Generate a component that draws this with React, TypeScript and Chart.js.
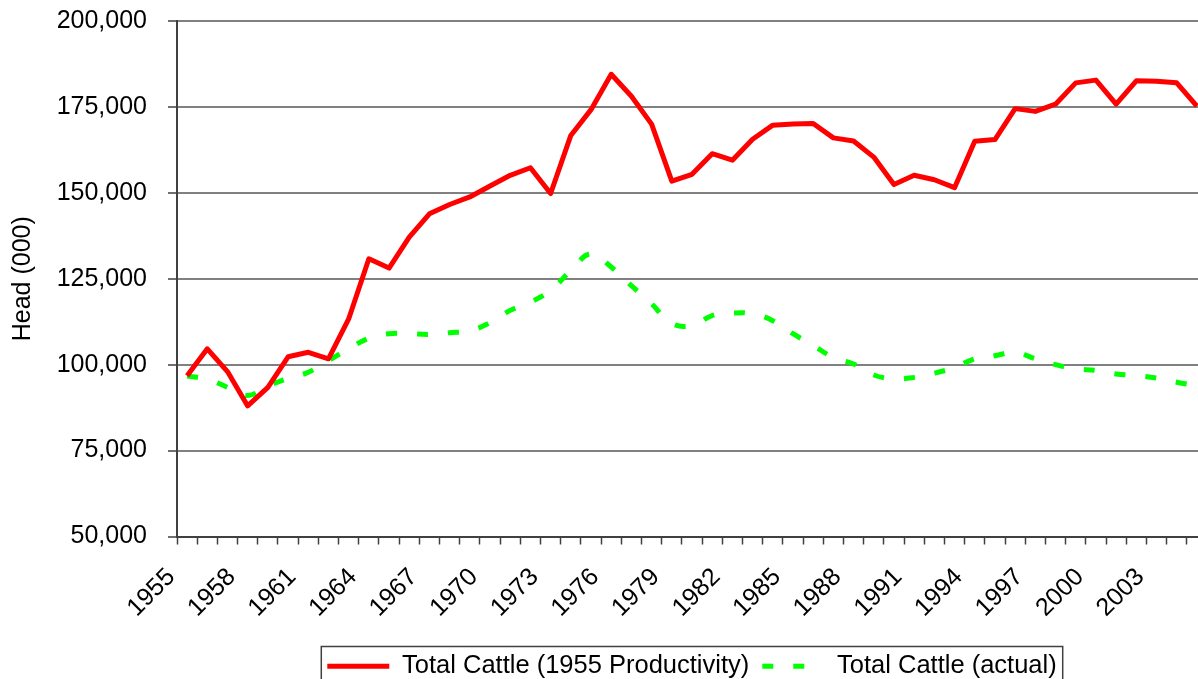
import React, { useEffect, useRef } from 'react';
import { Chart, registerables } from 'chart.js';

Chart.register(...registerables);

const years = [
  1955, 1956, 1957, 1958, 1959, 1960, 1961, 1962, 1963, 1964,
  1965, 1966, 1967, 1968, 1969, 1970, 1971, 1972, 1973, 1974,
  1975, 1976, 1977, 1978, 1979, 1980, 1981, 1982, 1983, 1984,
  1985, 1986, 1987, 1988, 1989, 1990, 1991, 1992, 1993, 1994,
  1995, 1996, 1997, 1998, 1999, 2000, 2001, 2002, 2003, 2004, 2005,
];

const productivity = [
  96800, 104600, 98000, 88000, 93400, 102300, 103600, 101700, 113300, 130800,
  128100, 137100, 143900, 146600, 148800, 152000, 155100, 157300, 149800, 166700,
  174200, 184500, 178100, 170000, 153400, 155400, 161400, 159500, 165600, 169700,
  170000, 170200, 166000, 165100, 160400, 152400, 155100, 153800, 151500, 165000,
  165500, 174500, 173700, 175800, 182000, 182800, 175800, 182600, 182500, 182000, 175200,
];

const actual = [
  96700, 95800, 93400, 91000, 93800, 96000, 97800, 101200, 104600, 107700,
  109000, 109000, 108800, 109300, 109900, 112200, 115800, 118200, 121600, 127400,
  132300, 128400, 123000, 117700, 112000, 111400, 114300, 115000, 114800, 112800,
  109000, 105600, 102100, 100200, 97000, 95900, 96300, 97500, 99200, 101700,
  102600, 103600, 101700, 100000, 98800, 98300, 97300, 96800, 96100, 94900, 93900,
];

const xTickLabels = [
  '1955', '1958', '1961', '1964', '1967', '1970', '1973', '1976', '1979',
  '1982', '1985', '1988', '1991', '1994', '1997', '2000', '2003',
];
const yTickValues = [50000, 75000, 100000, 125000, 150000, 175000, 200000];
const seriesNames = ['Total Cattle (1955 Productivity)', 'Total Cattle (actual)'];
const yTitle = 'Head (000)';

const legendBorder = {
  id: 'legendBorder',
  afterDraw(chart: any) {
    const lg = chart.legend;
    const hb = lg && lg.legendHitBoxes;
    if (!hb || !hb.length) return;
    const first = hb[0];
    const last = hb[hb.length - 1];
    const ctx = chart.ctx;
    ctx.save();
    ctx.strokeStyle = '#404040';
    ctx.lineWidth = 1.5;
    const left = first.left - 6;
    const right = last.left + last.width + 6;
    ctx.strokeRect(left, first.top - 7, right - left, 80);
    ctx.restore();
  },
};

export default function App() {
  const ref = useRef<HTMLCanvasElement | null>(null);

  useEffect(() => {
    document.body.style.margin = '0';
    document.body.style.overflow = 'hidden';
    const canvas = ref.current;
    if (!canvas) return;
    Chart.defaults.font.family = '"Liberation Sans", Arial, sans-serif';
    Chart.defaults.color = '#000000';

    const tickValues: number[] = [];
    years.forEach((y) => {
      tickValues.push(y - 0.5);
      tickValues.push(y);
    });
    tickValues.push(years[years.length - 1] + 0.5);

    const defaultLabels = (Chart.defaults as any).plugins.legend.labels.generateLabels;

    const chart = new Chart(canvas, {
      type: 'line',
      data: {
        datasets: [
          {
            label: seriesNames[0],
            data: years.map((x, i) => ({ x, y: productivity[i] })),
            borderColor: '#ff0000',
            backgroundColor: '#ff0000',
            borderWidth: 5,
            pointRadius: 0,
            tension: 0,
            borderJoinStyle: 'round',
          },
          {
            label: seriesNames[1],
            data: years.map((x, i) => ({ x, y: actual[i] })),
            borderColor: '#00ff00',
            backgroundColor: '#00ff00',
            borderWidth: 5,
            borderDash: [11, 20],
            pointRadius: 0,
            tension: 0.4,
          },
        ],
      },
      options: {
        responsive: false,
        animation: false,
        layout: { padding: { top: 21, left: 0, right: 0, bottom: 0 } },
        scales: {
          x: {
            type: 'linear',
            min: years[0] - 0.5,
            max: years[years.length - 1] + 0.5,
            afterBuildTicks: (scale: any) => {
              scale.ticks = tickValues.map((v) => ({ value: v }));
            },
            afterFit: (scale: any) => {
              scale.height = 104;
              scale.paddingLeft = 0;
              scale.paddingRight = 0;
            },
            border: { display: true, color: '#404040', width: 2 },
            grid: {
              drawOnChartArea: false,
              drawTicks: true,
              tickLength: 8,
              tickWidth: 1.5,
              color: (ctx: any) =>
                ctx.tick && Number.isInteger(ctx.tick.value) ? 'rgba(0,0,0,0)' : '#404040',
            },
            ticks: {
              autoSkip: false,
              maxRotation: 45,
              minRotation: 45,
              padding: 18,
              labelOffset: -16,
              font: { size: 25 },
              color: '#000000',
              callback: (v: any) => {
                const s = String(v);
                return xTickLabels.includes(s) ? s : '';
              },
            },
          },
          y: {
            min: yTickValues[0],
            max: yTickValues[yTickValues.length - 1],
            afterBuildTicks: (scale: any) => {
              scale.ticks = yTickValues.map((v) => ({ value: v }));
            },
            afterFit: (scale: any) => {
              scale.width = 177;
              scale.paddingTop = 0;
              scale.paddingBottom = 0;
            },
            border: { display: true, color: '#404040', width: 2 },
            grid: {
              color: '#808080',
              lineWidth: 2,
              tickLength: 9,
              tickColor: '#404040',
              tickWidth: 1.5,
            },
            ticks: {
              padding: 21,
              font: { size: 25 },
              color: '#000000',
              callback: (v: any) => Number(v).toLocaleString('en-US'),
            },
            title: {
              display: true,
              text: yTitle,
              font: { size: 25 },
              color: '#000000',
              padding: { top: 8, bottom: 0 },
            },
          },
        },
        plugins: {
          legend: {
            position: 'bottom',
            fullSize: false,
            labels: {
              usePointStyle: true,
              pointStyle: 'line',
              pointStyleWidth: 62,
              padding: 13,
              font: { size: 25.5 },
              color: '#000000',
              generateLabels: (c: any) => {
                const items = defaultLabels(c);
                items.forEach((it: any) => {
                  const ds = c.data.datasets[it.datasetIndex];
                  it.lineDash = ds.borderDash || [];
                  it.lineWidth = ds.borderWidth;
                  it.strokeStyle = ds.borderColor;
                  it.fillStyle = ds.borderColor;
                  it.lineCap = 'butt';
                });
                return items;
              },
            },
          },
          tooltip: { enabled: false },
        },
      },
      plugins: [legendBorder],
    } as any);

    return () => chart.destroy();
  }, []);

  return (
    <div
      style={{
        position: 'fixed',
        left: 0,
        top: 0,
        width: 1198,
        height: 679,
        overflow: 'hidden',
        background: '#ffffff',
      }}
    >
      <canvas ref={ref} width={1207} height={689} style={{ display: 'block' }} />
    </div>
  );
}
